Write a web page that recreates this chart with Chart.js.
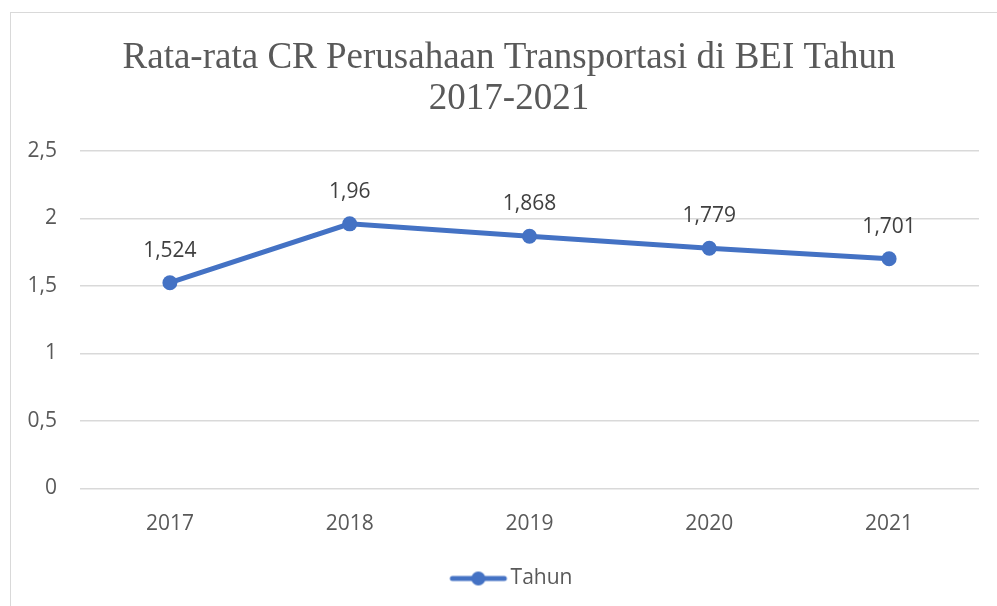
<!DOCTYPE html>
<html>
<head>
<meta charset="utf-8">
<script src="https://cdn.jsdelivr.net/npm/chart.js@4"></script>
<style>
  html, body { margin: 0; padding: 0; background: #fff; }
  #wrap { position: relative; width: 997px; height: 606px; overflow: hidden; }
  #frame { position: absolute; left: 10px; top: 12px; width: 1100px; height: 700px; border-left: 1px solid #d9d9d9; border-top: 1px solid #d9d9d9; }
  canvas { position: absolute; left: 0; top: 0; }
</style>
</head>
<body>
<div id="wrap">
  <div id="frame"></div>
  <canvas id="c" width="997" height="606"></canvas>
</div>
<script>
const categories = ['2017', '2018', '2019', '2020', '2021'];
const seriesName = 'Tahun';
const values = [1.524, 1.96, 1.868, 1.779, 1.701];
const yTicks = [0, 0.5, 1, 1.5, 2, 2.5];
const titleLines = ['Rata-rata CR Perusahaan Transportasi di BEI Tahun', '2017-2021'];

const BLUE = '#4472C4';
const fmt = v => String(v).replace('.', ',');

// legend marker: line with a circle (transparent space on the left shifts the item)
const mk = document.createElement('canvas');
mk.width = 100; mk.height = 18;
(function () {
  const g = mk.getContext('2d');
  g.strokeStyle = BLUE; g.lineWidth = 5; g.lineCap = 'round';
  g.beginPath(); g.moveTo(44, 9); g.lineTo(96, 9); g.stroke();
  g.fillStyle = BLUE; g.beginPath(); g.arc(70, 9, 7, 0, Math.PI * 2); g.fill();
})();

const titlePlugin = {
  id: 'customTitle',
  afterDraw(chart) {
    const ctx = chart.ctx;
    ctx.save();
    ctx.font = '37px "Liberation Serif"';
    ctx.fillStyle = '#595959';
    ctx.textAlign = 'center';
    ctx.textBaseline = 'alphabetic';
    ctx.fillText(titleLines[0], 509, 68);
    ctx.fillText(titleLines[1], 509, 109);
    ctx.restore();
  }
};

const dataLabels = {
  id: 'dataLabels',
  afterDatasetsDraw(chart) {
    const ctx = chart.ctx;
    const meta = chart.getDatasetMeta(0);
    ctx.save();
    ctx.font = '21px "Open Sans"';
    ctx.fillStyle = '#404040';
    ctx.textAlign = 'center';
    ctx.textBaseline = 'middle';
    meta.data.forEach((pt, i) => {
      ctx.fillText(fmt(values[i]), pt.x, pt.y - 32);
    });
    ctx.restore();
  }
};

new Chart(document.getElementById('c'), {
  type: 'line',
  data: {
    labels: categories,
    datasets: [{
      label: seriesName,
      data: values,
      borderColor: BLUE,
      backgroundColor: BLUE,
      borderWidth: 5,
      pointRadius: 7.5,
      pointHoverRadius: 7.5,
      pointBackgroundColor: BLUE,
      pointBorderWidth: 0,
      pointStyle: 'circle',
      tension: 0
    }]
  },
  options: {
    responsive: false,
    animation: false,
    events: [],
    layout: { padding: { left: 10, right: 18, top: 151, bottom: 7 } },
    plugins: {
      title: { display: false },
      legend: {
        position: 'bottom',
        labels: {
          usePointStyle: true,
          pointStyle: mk,
          pointStyleWidth: 83.5,
          color: '#595959',
          font: { family: '"Open Sans"', size: 21 },
          padding: 8.5,
          generateLabels(chart) {
            return [{ text: seriesName, pointStyle: mk, fillStyle: BLUE, strokeStyle: BLUE, lineWidth: 0, fontColor: '#595959', datasetIndex: 0 }];
          }
        }
      },
      tooltip: { enabled: false }
    },
    scales: {
      x: {
        offset: true,
        grid: { display: false, drawTicks: false },
        border: { display: false },
        ticks: { color: '#595959', font: { family: '"Open Sans"', size: 21 }, padding: 23, maxRotation: 0 }
      },
      y: {
        min: 0, max: 2.5,
        afterFit(scale) { scale.width = 70; },
        afterBuildTicks(scale) { scale.ticks = yTicks.map(v => ({ value: v })); },
        grid: { color: '#d9d9d9', lineWidth: 1.5, drawTicks: false },
        border: { display: false },
        ticks: { color: '#595959', font: { family: '"Open Sans"', size: 21 }, padding: 23, callback: v => fmt(v) }
      }
    }
  },
  plugins: [dataLabels, titlePlugin]
});
</script>
</body>
</html>
